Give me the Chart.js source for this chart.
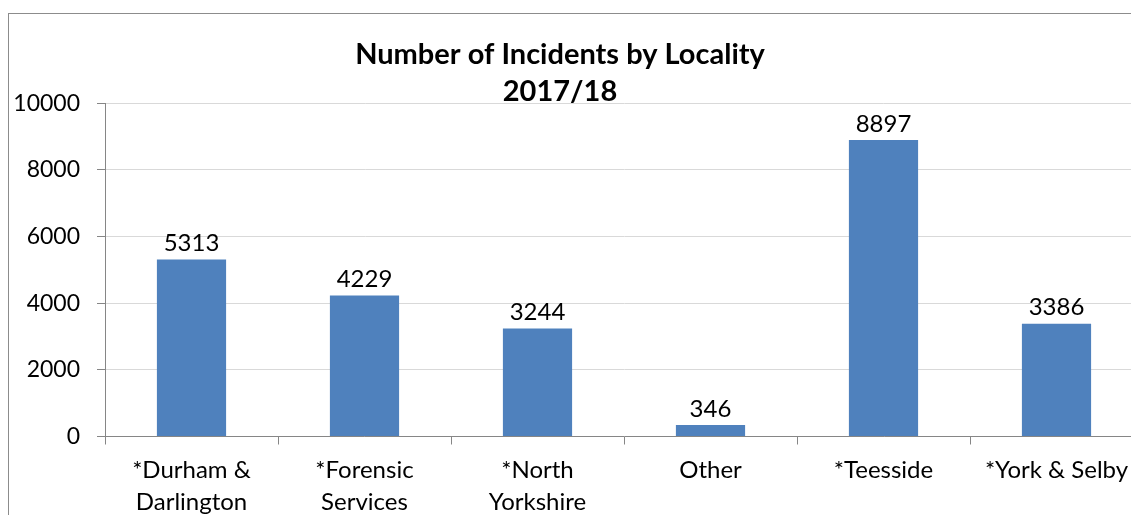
<!DOCTYPE html>
<html>
<head>
<meta charset="utf-8">
<script src="https://cdn.jsdelivr.net/npm/chart.js@4.4.0/dist/chart.umd.min.js"></script>
<style>
  html, body { margin: 0; padding: 0; background: #fff; overflow: hidden; width: 1131px; height: 515px; }
  #frame { position: absolute; left: 8px; top: 13px; width: 1200px; height: 600px;
           border-left: 1px solid #8c8c8c; border-top: 1px solid #8c8c8c; }
  #chart { position: absolute; left: -23px; top: 0; }
</style>
</head>
<body>
<div id="frame"></div>
<canvas id="chart" width="1166" height="515"></canvas>
<script>
// Number of Incidents by Locality 2017/18

const TITLE_LINES = ['Number of Incidents by Locality', '2017/18'];

const LOCALITIES = [
  ['*Durham &', 'Darlington'],
  ['*Forensic', 'Services'],
  ['*North', 'Yorkshire'],
  'Other',
  '*Teesside',
  '*York & Selby'
];

const INCIDENTS = [5313, 4229, 3244, 346, 8897, 3386];

const Y_MIN  = 0;
const Y_MAX  = 10000;
const Y_STEP = 2000;

const BAR_COLOR  = '#4F81BD';
const AXIS_COLOR = '#868686';
const GRID_COLOR = '#d9d9d9';
const FONT       = 'Lato, Calibri, Carlito, sans-serif';

// value labels drawn above each bar
const valueLabels = {
  id: 'valueLabels',
  afterDatasetsDraw(chart) {
    const { ctx } = chart;
    const meta = chart.getDatasetMeta(0);
    ctx.save();
    ctx.font = `24px ${FONT}`;
    ctx.fillStyle = '#000';
    ctx.textAlign = 'center';
    ctx.textBaseline = 'bottom';
    meta.data.forEach((bar, i) => {
      ctx.fillText(String(INCIDENTS[i]), bar.x, bar.y - 4);
    });
    ctx.restore();
  }
};

new Chart(document.getElementById('chart'), {
  type: 'bar',
  data: {
    labels: LOCALITIES,
    datasets: [{
      data: INCIDENTS,
      backgroundColor: BAR_COLOR,
      borderWidth: 0,
      barPercentage: 0.4,
      categoryPercentage: 1
    }]
  },
  options: {
    responsive: false,
    animation: false,
    layout: { padding: { top: 2, right: 0, bottom: 0, left: 0 } },
    plugins: {
      legend:  { display: false },
      tooltip: { enabled: false },
      title: {
        display: true,
        text: TITLE_LINES,
        color: '#000',
        font: { family: FONT, size: 29, weight: 'bold', lineHeight: 1.28 },
        padding: { top: 34, bottom: -7 }
      }
    },
    scales: {
      x: {
        grid: {
          offset: true,
          drawOnChartArea: false,
          color: AXIS_COLOR,
          tickLength: 8
        },
        border: { color: AXIS_COLOR, width: 1 },
        ticks: {
          color: '#000',
          padding: 10,
          maxRotation: 0,
          autoSkip: false,
          font: { family: FONT, size: 24, lineHeight: 1.33 }
        },
        afterFit(scale) { scale.height = 78.5; }
      },
      y: {
        min: Y_MIN,
        max: Y_MAX,
        grid: {
          color: GRID_COLOR,
          tickColor: AXIS_COLOR,
          tickLength: 8
        },
        border: { color: AXIS_COLOR, width: 1 },
        ticks: {
          stepSize: Y_STEP,
          color: '#000',
          padding: 17,
          font: { family: FONT, size: 23 },
          callback: v => String(v)
        },
        afterFit(scale) { scale.width = 128; }
      }
    }
  },
  plugins: [valueLabels]
});
</script>
</body>
</html>
